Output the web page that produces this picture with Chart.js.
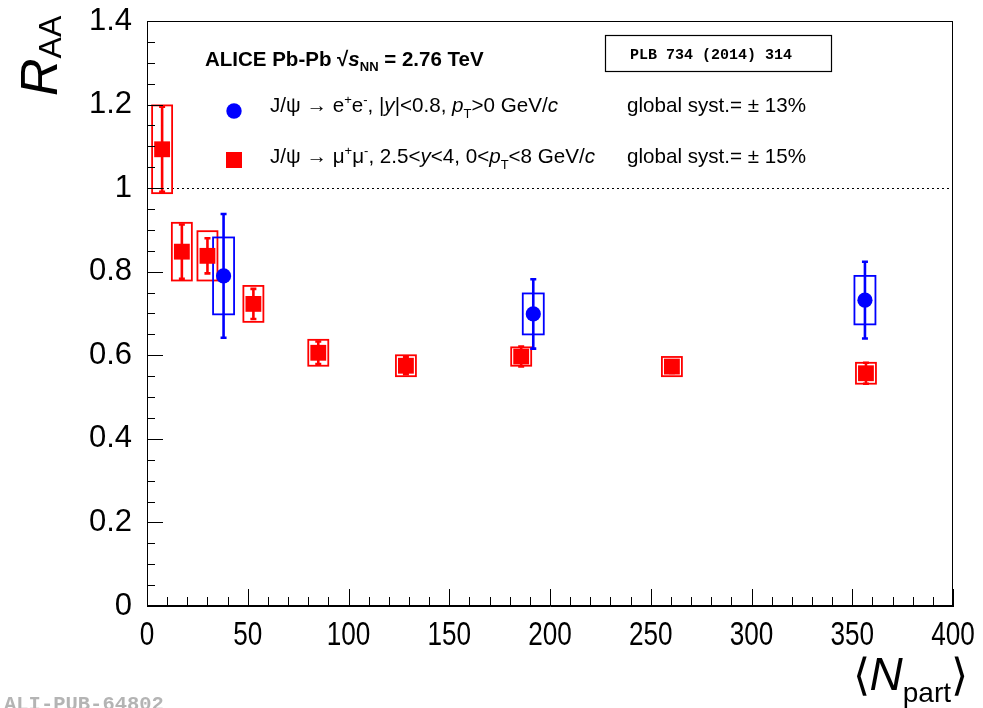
<!DOCTYPE html>
<html><head><meta charset="utf-8">
<script src="https://cdn.jsdelivr.net/npm/chart.js@4/dist/chart.umd.min.js"></script>
<style>html,body{margin:0;padding:0;background:#fff;overflow:hidden}canvas{display:block}</style>
</head><body>
<canvas id="c" width="983" height="708"></canvas>
<script>
// ---- data ----
const npartMuon = [7.5, 17.3, 30.0, 52.8, 85.0, 128.5, 185.7, 260.5, 356.8];
const raaMuon   = [1.093, 0.848, 0.838, 0.723, 0.606, 0.575, 0.597, 0.573, 0.557];
const statMuon  = [0.102, 0.065, 0.042, 0.036, 0.027, 0.020, 0.024, 0.015, 0.025];
const systMuon  = [0.105, 0.069, 0.059, 0.043, 0.031, 0.025, 0.022, 0.023, 0.025];

const npartEle = [38.0, 191.7, 356.3];
const raaEle   = [0.790, 0.699, 0.732];
const statEle  = [0.148, 0.083, 0.092];
const systEle  = [0.092, 0.049, 0.058];

const xTickValues = [0, 50, 100, 150, 200, 250, 300, 350, 400];
const yTickValues = [0, 0.2, 0.4, 0.6, 0.8, 1.0, 1.2, 1.4];
const yTickLabels = ['0', '0.2', '0.4', '0.6', '0.8', '1', '1.2', '1.4'];
const referenceLine = 1.0;

const RED = '#ff0000', BLUE = '#0000ff';
const SANS = "'Liberation Sans', Arial, Helvetica, sans-serif";
const MONO = "'Liberation Mono', 'Courier New', monospace";

function rich(ctx, x, y, parts, align) {
  let w = 0;
  parts.forEach(p => { ctx.font = p[1]; w += ctx.measureText(p[0]).width; });
  let cx = align === 'right' ? x - w : (align === 'center' ? x - w / 2 : x);
  parts.forEach(p => { ctx.font = p[1]; ctx.fillText(p[0], cx, y + (p[2] || 0)); cx += ctx.measureText(p[0]).width; });
  return w;
}

const muonPts = npartMuon.map((x, i) => ({x, y: raaMuon[i], s: statMuon[i], u: systMuon[i]}));
const elePts  = npartEle.map((x, i) => ({x, y: raaEle[i], s: statEle[i], u: systEle[i]}));

const errorPlugin = {
  id: 'errors',
  beforeDatasetsDraw(chart) {
    const {ctx, scales: {x, y}, chartArea: a} = chart;
    ctx.save();
    ctx.beginPath(); ctx.rect(a.left, a.top, a.right - a.left, a.bottom - a.top); ctx.clip();
    // dotted reference line
    ctx.strokeStyle = '#000'; ctx.lineWidth = 1.2; ctx.setLineDash([2, 3]);
    const yr = Math.round(y.getPixelForValue(referenceLine)) + 0.5;
    ctx.beginPath(); ctx.moveTo(a.left, yr); ctx.lineTo(a.right, yr); ctx.stroke();
    ctx.setLineDash([]);
    const drawSet = (pts, col, half) => {
      pts.forEach(p => {
        const px = x.getPixelForValue(p.x);
        const t = y.getPixelForValue(p.y + p.u), b = y.getPixelForValue(p.y - p.u);
        ctx.strokeStyle = col; ctx.lineWidth = 1.8;
        ctx.strokeRect(px - half, t, 2 * half, b - t);
        const st = y.getPixelForValue(p.y + p.s), sb = y.getPixelForValue(p.y - p.s);
        ctx.lineWidth = 2.6;
        ctx.beginPath(); ctx.moveTo(px, st); ctx.lineTo(px, sb);
        ctx.moveTo(px - 3, st); ctx.lineTo(px + 3, st);
        ctx.moveTo(px - 3, sb); ctx.lineTo(px + 3, sb);
        ctx.stroke();
      });
    };
    drawSet(muonPts, RED, 10);
    drawSet(elePts, BLUE, 10.5);
    ctx.restore();
  },
  afterDraw(chart) {
    const {ctx, scales: {x, y}, chartArea: a} = chart;
    ctx.save();
    ctx.strokeStyle = '#000'; ctx.lineWidth = 1;
    ctx.strokeRect(a.left + 0.5, a.top + 0.5, a.right - a.left - 1, a.bottom - a.top - 1);
    ctx.beginPath();
    for (let v = 0; v <= 400; v += 10) {
      const px = Math.round(x.getPixelForValue(v)) + 0.5;
      const len = (v % 50 === 0) ? 17 : 9;
      ctx.moveTo(px, a.bottom); ctx.lineTo(px, a.bottom - len);
    }
    for (let k = 0; k <= 28; k++) {
      const py = Math.round(y.getPixelForValue(k * 0.05)) + 0.5;
      const len = (k % 4 === 0) ? 16 : 8;
      ctx.moveTo(a.left, py); ctx.lineTo(a.left + len, py);
    }
    ctx.stroke();

    // x tick labels (condensed, as in the reference) from the scale's own ticks
    ctx.fillStyle = '#000'; ctx.textBaseline = 'alphabetic'; ctx.textAlign = 'center';
    ctx.font = '34px ' + SANS;
    x.ticks.forEach((t, i) => {
      const px = x.getPixelForTick(i);
      ctx.save(); ctx.translate(px, 645); ctx.scale(0.77, 1);
      ctx.fillText(String(t.value), 0, 0);
      ctx.restore();
    });
    ctx.textAlign = 'left';

    // axis titles
    ctx.save();
    ctx.translate(57, 96); ctx.rotate(-Math.PI / 2);
    rich(ctx, 0, 0, [['R', 'italic 52px ' + SANS], ['AA', '32px ' + SANS, 4]], 'left');
    ctx.restore();
    rich(ctx, 968, 690, [['\u27E8', '44px ' + SANS], ['N', 'italic 46px ' + SANS], ['part', '28px ' + SANS, 12], ['\u27E9', '44px ' + SANS]], 'right');

    // header
    rich(ctx, 205, 66, [['ALICE Pb-Pb ', 'bold 20.5px ' + SANS], ['\u221A', 'bold 20.5px ' + SANS], ['s', 'italic bold 20.5px ' + SANS], ['NN', 'bold 13px ' + SANS, 5], [' = 2.76 TeV', 'bold 20.5px ' + SANS]], 'left');

    // PLB box
    ctx.lineWidth = 1.2; ctx.strokeRect(605.5, 35.5, 226, 36);
    ctx.font = 'bold 15px ' + MONO; ctx.textAlign = 'center';
    ctx.fillText('PLB 734 (2014) 314', 711, 59);
    ctx.textAlign = 'left';

    // legend
    ctx.fillStyle = BLUE; ctx.beginPath(); ctx.arc(234, 111, 7.7, 0, 2 * Math.PI); ctx.fill();
    ctx.fillStyle = RED; ctx.fillRect(226, 152, 16, 16);
    ctx.fillStyle = '#000';
    const f = '20.6px ' + SANS, fi = 'italic 20.6px ' + SANS, fs = '13px ' + SANS;
    rich(ctx, 270, 112, [['J/\u03C8 \u2192 e', f], ['+', fs, -8], ['e', f], ['-', fs, -8], [', |', f], ['y', fi], ['|<0.8, ', f], ['p', fi], ['T', fs, 6], ['>0 GeV/', f], ['c', fi]], 'left');
    rich(ctx, 270, 163, [['J/\u03C8 \u2192 \u03BC', f], ['+', fs, -8], ['\u03BC', f], ['-', fs, -8], [', 2.5<', f], ['y', fi], ['<4, 0<', f], ['p', fi], ['T', fs, 6], ['<8 GeV/', f], ['c', fi]], 'left');
    rich(ctx, 627, 112, [['global syst.= \u00B1 13%', f]], 'left');
    rich(ctx, 627, 163, [['global syst.= \u00B1 15%', f]], 'left');

    // watermark
    ctx.fillStyle = '#b4b4b4'; ctx.font = 'bold 20.5px ' + MONO;
    ctx.fillText('ALI-PUB-64802', 4, 710);
    ctx.restore();
  }
};

new Chart(document.getElementById('c'), {
  type: 'scatter',
  data: {
    datasets: [
      {label: 'mumu', data: muonPts, pointStyle: 'rect', pointRadius: 11.2, backgroundColor: RED, borderColor: RED, borderWidth: 0},
      {label: 'ee', data: elePts, pointStyle: 'circle', pointRadius: 7.6, backgroundColor: BLUE, borderColor: BLUE, borderWidth: 0}
    ]
  },
  options: {
    responsive: false, animation: false, devicePixelRatio: 1,
    layout: {padding: {left: 0, right: 30, top: 21, bottom: 0}},
    plugins: {legend: {display: false}, tooltip: {enabled: false}},
    scales: {
      x: {
        type: 'linear', min: 0, max: 400,
        afterBuildTicks: s => { s.ticks = xTickValues.map(v => ({value: v})); },
        afterFit: s => { s.height = 102; s.paddingLeft = 0; s.paddingRight = 0; s.paddingTop = 0; s.paddingBottom = 0; },
        grid: {display: false, drawTicks: false},
        border: {display: true, color: '#000', width: 1},
        ticks: {display: false, autoSkip: false}
      },
      y: {
        type: 'linear', min: 0, max: 1.4,
        afterBuildTicks: s => { s.ticks = yTickValues.map(v => ({value: v})); },
        afterFit: s => { s.width = 147; s.paddingLeft = 0; s.paddingRight = 0; s.paddingTop = 0; s.paddingBottom = 0; },
        grid: {display: false, drawTicks: false},
        border: {display: true, color: '#000', width: 1},
        ticks: {font: {family: SANS, size: 31}, color: '#000', padding: 15, autoSkip: false,
          callback: (v, i) => yTickLabels[i]}
      }
    }
  },
  plugins: [errorPlugin]
});
</script>
</body></html>
